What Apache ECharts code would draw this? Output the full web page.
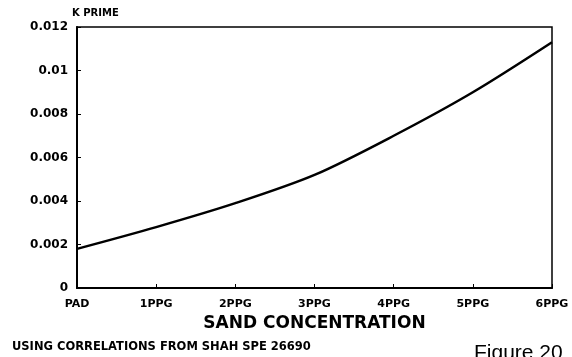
<!DOCTYPE html>
<html>
<head>
<meta charset="utf-8">
<script src="https://cdn.jsdelivr.net/npm/echarts@6/dist/echarts.min.js"></script>
<style>
  html, body { margin: 0; padding: 0; background: #fff; }
  #chart { width: 572px; height: 357px; }
</style>
</head>
<body>
<div id="chart"></div>
<script>
// sand concentration steps on the x axis
const categories = ['PAD', '1PPG', '2PPG', '3PPG', '4PPG', '5PPG', '6PPG'];
// K prime
const kPrime = [0.0018, 0.0028, 0.0039, 0.0052, 0.0070, 0.0090, 0.0113];
const yTicks = { min: 0, max: 0.012, interval: 0.002 };

const font = 'DejaVu Sans';
const chart = echarts.init(document.getElementById('chart'));

chart.setOption({
  animation: false,
  backgroundColor: '#fff',
  grid: {
    left: 77, right: 20, top: 27, bottom: 69,
    show: true, borderColor: '#000', borderWidth: 1.5
  },
  xAxis: {
    type: 'category',
    data: categories,
    boundaryGap: false,
    name: 'SAND CONCENTRATION',
    nameLocation: 'middle',
    nameGap: 27,
    nameTextStyle: { fontFamily: font, fontWeight: 'bold', fontSize: 17, color: '#000' },
    axisLine: { lineStyle: { color: '#000', width: 2 } },
    axisTick: { inside: true, length: 4, lineStyle: { color: '#000' } },
    axisLabel: { fontFamily: font, fontWeight: 'bold', fontSize: 11, color: '#000', margin: 11 },
    splitLine: { show: false }
  },
  yAxis: {
    type: 'value',
    min: yTicks.min, max: yTicks.max, interval: yTicks.interval,
    name: 'K PRIME',
    nameGap: 9,
    nameTextStyle: { fontFamily: font, fontWeight: 'bold', fontSize: 10, color: '#000', align: 'left', padding: [0, 0, 0, -5] },
    axisLine: { show: true, lineStyle: { color: '#000', width: 2 } },
    axisTick: { show: true, inside: true, length: 4, lineStyle: { color: '#000' } },
    axisLabel: { fontFamily: font, fontWeight: 'bold', fontSize: 12, color: '#000', margin: 9 },
    splitLine: { show: false }
  },
  series: [{
    type: 'line',
    data: kPrime,
    smooth: 0.3,
    showSymbol: false,
    lineStyle: { color: '#000', width: 2.5 }
  }],
  graphic: [
    {
      type: 'text', left: 12, top: 341,
      style: { text: 'USING CORRELATIONS FROM SHAH SPE 26690', font: 'bold 11.5px "DejaVu Sans"', fill: '#000' }
    },
    {
      type: 'text', left: 474, top: 343,
      style: { text: 'Figure 20', font: '21px "Liberation Sans"', fill: '#000' }
    }
  ]
});
</script>
</body>
</html>
